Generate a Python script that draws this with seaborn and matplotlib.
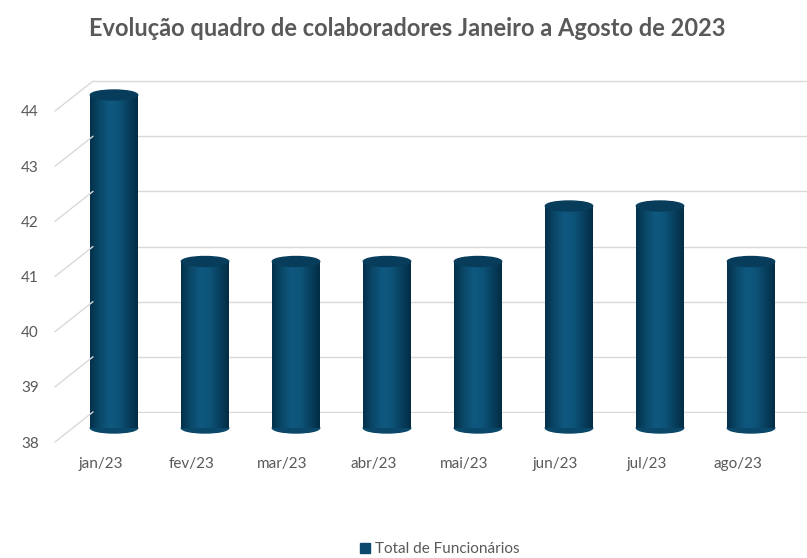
import matplotlib
matplotlib.use("Agg")
import matplotlib.pyplot as plt
from matplotlib.patches import Ellipse, Patch, ConnectionPatch
from matplotlib.colors import LinearSegmentedColormap
import numpy as np
import pandas as pd
import seaborn as sns

# dados
meses = ['jan/23', 'fev/23', 'mar/23', 'abr/23', 'mai/23', 'jun/23', 'jul/23', 'ago/23']
funcionarios = [44, 41, 41, 41, 41, 42, 42, 41]
yticks = [38, 39, 40, 41, 42, 43, 44]

df = pd.DataFrame({'mes': meses, 'total': funcionarios})

sns.set_theme(style='white')
plt.rcParams['font.family'] = ['Lato', 'DejaVu Sans']

cinza = '#595959'
azul = '#0b4a6e'
W, H = 807, 558
fig = plt.figure(figsize=(W / 100, H / 100), dpi=100)

# plano de fundo (linhas de grade)
ax_back = fig.add_axes([93 / W, 1 - 413 / H, (807 - 93) / W, 333 / H])
ax_back.set_ylim(37.98, 44.02)
ax_back.set_yticks(yticks)
ax_back.set_xticks([])
ax_back.tick_params(axis='y', length=0, labelleft=False)
ax_back.grid(axis='y', color='#d9d9d9', lw=1)
for s in ax_back.spines.values():
    s.set_visible(False)

# barras
ax = fig.add_axes([68.5 / W, 1 - 428 / H, 728 / W, 333 / H])
ax.patch.set_alpha(0)
sns.barplot(data=df, x='mes', y='total', color=azul, width=0.52, ax=ax, zorder=3)

cmap = LinearSegmentedColormap.from_list(
    'cil', ['#04314b', '#0a4868', '#0f5880', '#0d5479', '#08405f', '#032d45'])
grad = np.linspace(0, 1, 100).reshape(1, -1)
eh = 0.18
for p in ax.patches:
    x0, w, h = p.get_x(), p.get_width(), p.get_height()
    cx = x0 + w / 2
    p.set_visible(False)
    ax.imshow(grad, extent=[x0, x0 + w, 38, h], aspect='auto', cmap=cmap, zorder=3)
    ax.add_patch(Ellipse((cx, 38), w, eh, color='#0a4768', clip_on=False, zorder=2.9))
    ax.add_patch(Ellipse((cx, h), w, eh, color='#073d5b', clip_on=False, zorder=4))

ax.set_xlim(-0.5, 7.5)
ax.set_ylim(38, 44)
ax.set_yticks([])
ax.set_xlabel('')
ax.set_ylabel('')
ax.tick_params(axis='x', length=0, labelbottom=False)
for s in ax.spines.values():
    s.set_visible(False)

# plano frontal (rótulos dos eixos)
ax_front = fig.add_axes([55 / W, 1 - 442 / H, 728 / W, 331 / H])
ax_front.patch.set_alpha(0)
ax_front.set_ylim(38, 44)
ax_front.set_xlim(-0.5, 7.5)
ax_front.set_yticks(yticks)
ax_front.set_xticks(range(len(meses)))
ax_front.set_xticklabels(meses)
ax_front.tick_params(axis='y', length=0, pad=11.5, labelsize=11, labelcolor=cinza)
ax_front.tick_params(axis='x', length=0, pad=11, labelsize=11, labelcolor=cinza)
for s in ax_front.spines.values():
    s.set_visible(False)

for v in yticks:
    con = ConnectionPatch(xyA=(0, v), coordsA=ax_front.get_yaxis_transform(),
                          xyB=(0, v), coordsB=ax_back.get_yaxis_transform(),
                          color='#d9d9d9', lw=1)
    fig.add_artist(con)

fig.text(407 / W, 1 - 28 / H, 'Evolução quadro de colaboradores Janeiro a Agosto de 2023',
         ha='center', va='center', fontsize=17, fontweight='bold', color=cinza)

fig.legend(handles=[Patch(color=azul, label='Total de Funcionários')],
           loc='center', bbox_to_anchor=(440 / W, 1 - 549 / H), frameon=False,
           fontsize=11, handlelength=0.65, handleheight=0.65, handletextpad=0.3,
           labelcolor=cinza)

fig.savefig('out.png', dpi=100, facecolor='white')
